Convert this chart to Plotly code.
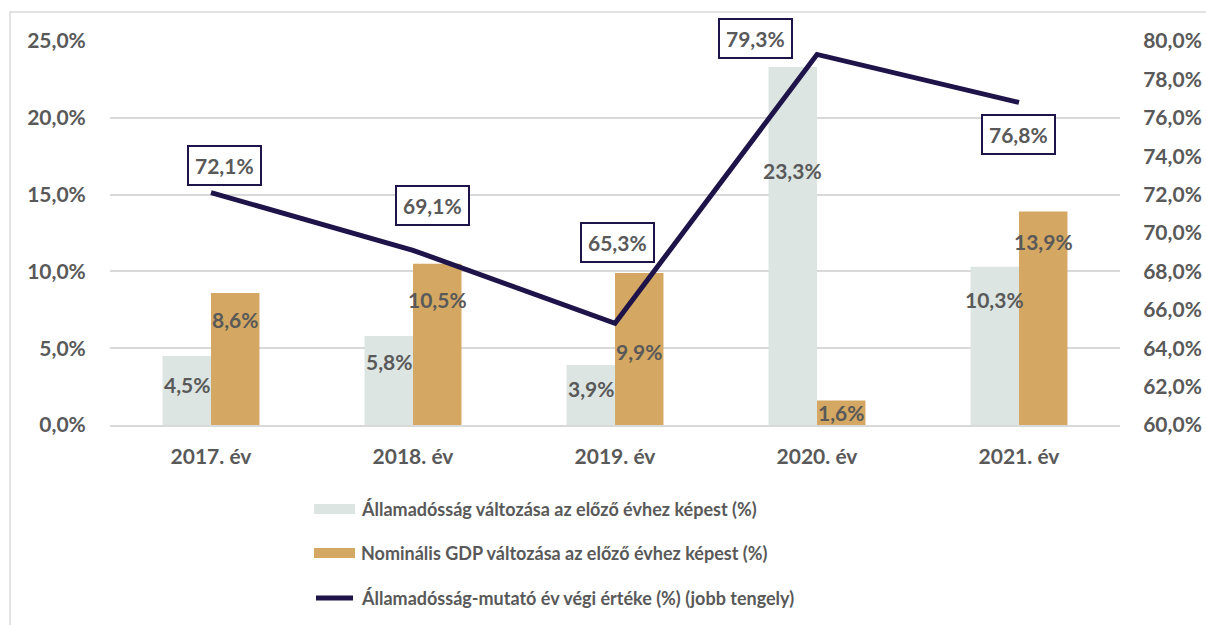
import plotly.graph_objects as go

# ---------------- data ----------------
categories = ["2017. év", "2018. év", "2019. év", "2020. év", "2021. év"]
debt_change = [4.5, 5.8, 3.9, 23.3, 10.3]          # left axis, %
gdp_change = [8.6, 10.5, 9.9, 1.6, 13.9]           # left axis, %
debt_ratio = [72.1, 69.1, 65.3, 79.3, 76.8]        # right axis, %
left_ticks = [0, 5, 10, 15, 20, 25]
right_ticks = [60, 62, 64, 66, 68, 70, 72, 74, 76, 78, 80]
legend_names = [
    "Államadósság változása az előző évhez képest (%)",
    "Nominális GDP változása az előző évhez képest (%)",
    "Államadósság-mutató év végi értéke (%) (jobb tengely)",
]

# ---------------- style ----------------
FONT = "Lato"
TXT = "#595959"
GRAY = "#dce5e2"
GOLD = "#d4a862"
NAVY = "#1f1449"
GRID = "#d9d9d9"
BAR_W = 0.24
FS = 21

# label offsets (pixels) - layout only
debt_label_shift = [-29, -26, -23, -103, -33]
gdp_label_shift = [-27, -36, -79, -12, -30]
ratio_label_dx = [13, 19, 2, -62, -1]
ratio_label_dy = [27, 45, 81, 16, -32]


def fmt(v):
    return f"{v:.1f}".replace(".", ",") + "%"


bold = dict(family=FONT, size=FS, color=TXT, weight="bold")
xs = list(range(len(categories)))

fig = go.Figure()
fig.add_trace(go.Bar(x=xs, y=debt_change, width=BAR_W, offset=-BAR_W,
                     marker=dict(color=GRAY, line=dict(width=0)),
                     name=legend_names[0], yaxis="y", showlegend=False))
fig.add_trace(go.Bar(x=xs, y=gdp_change, width=BAR_W, offset=0,
                     marker=dict(color=GOLD, line=dict(width=0)),
                     name=legend_names[1], yaxis="y", showlegend=False))
fig.add_trace(go.Scatter(x=xs, y=debt_ratio, mode="lines",
                         line=dict(color=NAVY, width=5),
                         name=legend_names[2], yaxis="y2", showlegend=False))

ann = []
for i, v in enumerate(debt_change):
    ann.append(dict(x=i - BAR_W / 2, y=v, xref="x", yref="y", text=fmt(v),
                    showarrow=False, yshift=debt_label_shift[i], font=bold))
for i, v in enumerate(gdp_change):
    ann.append(dict(x=i + BAR_W / 2, y=v, xref="x", yref="y", text=fmt(v),
                    showarrow=False, yshift=gdp_label_shift[i], font=bold))
for i, v in enumerate(debt_ratio):
    ann.append(dict(x=i, y=v, xref="x", yref="y2", text=fmt(v),
                    showarrow=False, xshift=ratio_label_dx[i], yshift=ratio_label_dy[i],
                    bordercolor=NAVY, borderwidth=2, borderpad=6, bgcolor="white",
                    font=bold))

# custom legend (paper coords; plot area 110..1120 x 41..425 px)
def px_x(p):
    return (p - 110) / 1010.0


def px_y(p):
    return (425 - p) / 384.0


shapes = []
leg_rows = [509, 553, 598]
for k, yy in enumerate(leg_rows):
    if k < 2:
        shapes.append(dict(type="rect", xref="paper", yref="paper",
                           x0=px_x(314), x1=px_x(355), y0=px_y(yy + 5), y1=px_y(yy - 5),
                           fillcolor=[GRAY, GOLD][k], line=dict(width=0)))
    else:
        shapes.append(dict(type="line", xref="paper", yref="paper",
                           x0=px_x(316), x1=px_x(353), y0=px_y(yy), y1=px_y(yy),
                           line=dict(color=NAVY, width=5)))
    ann.append(dict(x=px_x(359), y=px_y(yy), xref="paper", yref="paper",
                    text=legend_names[k], showarrow=False, xanchor="left", yanchor="middle",
                    font=dict(family=FONT, size=18, color=TXT, weight="bold")))

# outer chart border
shapes.append(dict(type="rect", xref="paper", yref="paper", layer="below",
                   x0=px_x(10), x1=px_x(1230), y0=px_y(640), y1=px_y(12),
                   line=dict(color=GRID, width=1.5), fillcolor="rgba(0,0,0,0)"))

fig.update_layout(
    width=1206, height=625,
    margin=dict(l=110, r=86, t=41, b=200),
    paper_bgcolor="white", plot_bgcolor="white",
    font=dict(family=FONT, color=TXT),
    showlegend=False,
    xaxis=dict(range=[-0.5, 4.5], tickvals=xs, ticktext=categories, automargin=False,
               showgrid=False, zeroline=False, showline=True, linecolor=GRID, linewidth=1.5,
               ticks="outside", ticklen=12, tickcolor="rgba(0,0,0,0)", tickfont=bold),
    yaxis=dict(range=[0, 25], tickvals=left_ticks, automargin=False,
               ticktext=[fmt(t) for t in left_ticks],
               showgrid=True, gridcolor=GRID, gridwidth=1.5, zeroline=False,
               ticks="outside", ticklen=19, tickcolor="rgba(0,0,0,0)", tickfont=bold),
    yaxis2=dict(range=[60, 80], tickvals=right_ticks, automargin=False,
                ticktext=[fmt(t) for t in right_ticks],
                overlaying="y", side="right", showgrid=False, zeroline=False,
                ticks="outside", ticklen=18, tickcolor="rgba(0,0,0,0)", tickfont=bold),
    annotations=ann,
    shapes=shapes,
)

fig.write_html("out.html", config={"displayModeBar": False},
               post_script="document.body.style.margin='0';")
